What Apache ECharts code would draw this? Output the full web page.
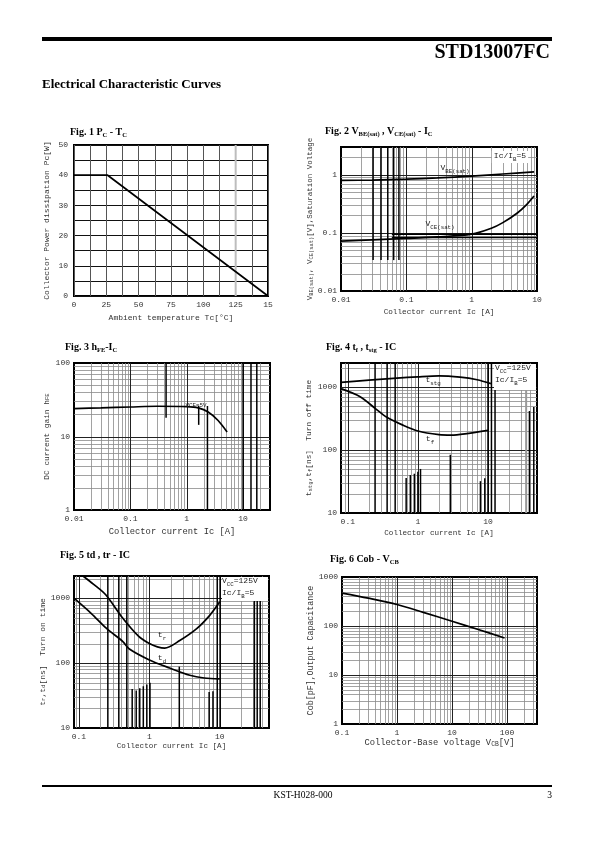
<!DOCTYPE html>
<html><head><meta charset="utf-8">
<script src="https://cdn.jsdelivr.net/npm/echarts@6/dist/echarts.min.js"></script>
<style>html,body{margin:0;padding:0;background:#fff}#c{width:595px;height:842px}</style>
</head><body><div id="c"></div>
<script>
// ================= DATA =================
// Fig.1 Pc - Tc
const fig1Temp = [0, 26, 150];
const fig1Pc = [40, 40, 0];
// Fig.2 VBE(sat), VCE(sat) - Ic
const fig2IcBe = [0.01, 0.03, 0.1, 0.3, 1, 3, 9];
const fig2Vbe = [0.80, 0.81, 0.84, 0.88, 0.95, 1.03, 1.12];
const fig2IcCe = [0.01, 0.03, 0.1, 0.3, 1, 2, 3, 5, 7, 9];
const fig2Vce = [0.072, 0.076, 0.08, 0.085, 0.095, 0.12, 0.15, 0.22, 0.31, 0.43];
// Fig.3 hFE - Ic
const fig3Ic = [0.01, 0.03, 0.1, 0.3, 1, 1.6, 2.4, 3.6, 5.2];
const fig3Hfe = [24, 24.5, 25.2, 25.8, 25.5, 24.5, 21.5, 16.5, 11.5];
// Fig.4 tf, tstg - Ic
const fig4IcStg = [0.08, 0.2, 0.5, 1, 2, 4, 7, 11];
const fig4Tstg = [1180, 1280, 1380, 1450, 1500, 1430, 1300, 1130];
const fig4IcF = [0.08, 0.15, 0.25, 0.36, 0.6, 1, 2, 3, 5, 10];
const fig4Tf = [940, 700, 450, 330, 250, 200, 175, 172, 182, 205];
// Fig.5 td, tr - Ic
const fig5IcR = [0.114, 0.16, 0.24, 0.42, 0.7, 1.0, 1.3, 1.65, 2.7, 4.7, 7.2, 10];
const fig5Tr = [2200, 1650, 1130, 490, 260, 200, 178, 170, 223, 340, 545, 880];
const fig5IcD = [0.085, 0.15, 0.244, 0.42, 0.52, 1, 1.94, 3.75, 6, 10];
const fig5Td = [1000, 580, 345, 215, 165, 112, 84, 65, 59, 57];
// Fig.6 Cob - Vcb
const fig6Vcb = [0.1, 0.3, 1, 3, 10, 30, 90];
const fig6Cob = [470, 370, 275, 190, 125, 85, 57];

// Tick labels
const fig1XTicks = [0, 25, 50, 75, 100, 125, 150];
const fig1XTickText = ['0', '25', '50', '75', '100', '125', '15'];
const fig1YTicks = [0, 10, 20, 30, 40, 50];
const fig2XTicks = [0.01, 0.1, 1, 10];
const fig2YTicks = [0.01, 0.1, 1];
const fig3XTicks = [0.01, 0.1, 1, 10];
const fig3YTicks = [1, 10, 100];
const fig4XTicks = [0.1, 1, 10];
const fig4YTicks = [10, 100, 1000];
const fig5XTicks = [0.1, 1, 10];
const fig5YTicks = [10, 100, 1000];
const fig6XTicks = [0.1, 1, 10, 100];
const fig6YTicks = [1, 10, 100, 1000];
const minorMantissa = [2, 3, 4, 5, 6, 7, 8, 9];

// Dark scan marks on the printed grids: [x0, y0, x1, y1] in axis units
const fig1GrayMarks = [[125, 0, 125, 50]];
const fig2Marks = [[0.031,0.034,0.031,3],[0.041,0.034,0.041,3],[0.052,0.034,0.052,3],[0.064,0.034,0.064,3],[0.077,0.034,0.077,3],[0.06,0.095,10,0.095],[0.06,0.083,10,0.083]];
const fig3Marks = [[0.43,18,0.43,100],[1.63,14.4,1.63,26],[2.33,1,2.33,26],[10,1,10,100],[13.8,1,13.8,100],[17.5,1,17.5,100]];
const fig4Marks = [[0.245,10,0.245,2400],[0.364,10,0.364,2400],[0.474,10,0.474,2400],[0.68,10,0.68,36],[0.78,10,0.78,40],[0.89,10,0.89,42],[1.0,10,1.0,45],[1.09,10,1.09,50],[2.9,10,2.9,84],[7.8,10,7.8,32],[9,10,9,35.6],[10,10,10,2400],[11.2,10,11.2,2400],[12.6,10,12.6,2400],[39,10,39,415],[45,10,45,480]];
const fig4GrayMarks = [[35,10,35,1050]];
const fig5Marks = [[0.257,10,0.257,2200],[0.368,10,0.368,2200],[0.478,10,0.478,2200],[0.57,10,0.57,40],[0.65,10,0.65,38],[0.73,10,0.73,41],[0.82,10,0.82,44],[0.92,10,0.92,47],[1.02,10,1.02,50],[2.66,10,2.66,88],[7.06,10,7.06,36],[8.0,10,8.0,37],[9.2,10,9.2,2200],[10.1,10,10.1,2200],[31,10,31,1000],[34,10,34,1000],[37.5,10,37.5,1000]];

// ================= HELPERS =================
const SERIF = '"Liberation Serif","Times New Roman",serif';
const MONO = '"Liberation Mono","DejaVu Sans Mono",monospace';
const zip = (a, b) => a.map((v, i) => [v, b[i]]);
function fmt(vals, texts) {
  return function (v) {
    for (let i = 0; i < vals.length; i++) {
      const t = vals[i];
      const ok = t === 0 ? Math.abs(v) < 1e-9 : Math.abs(v / t - 1) < 1e-6;
      if (ok) return texts ? texts[i] : String(t);
    }
    return '';
  };
}
function logValues(min, max, mant) {
  const out = [];
  for (let e = Math.floor(Math.log10(min)) - 1; e <= Math.ceil(Math.log10(max)); e++) {
    for (const m of mant) {
      const v = +(m * Math.pow(10, e)).toPrecision(6);
      if (v > min * 1.0001 && v < max * 0.9999) out.push(v);
    }
  }
  return out;
}
function gridSegs(xmin, xmax, ymin, ymax, mant) {
  const s = [];
  logValues(xmin, xmax, mant).forEach(v => s.push([v, ymin, v, ymax]));
  logValues(ymin, ymax, mant).forEach(v => s.push([xmin, v, xmax, v]));
  return s;
}
function segSeries(idx, segs, color, width, z) {
  return {
    type: 'custom', xAxisIndex: idx, yAxisIndex: idx, z: z, silent: true,
    data: segs, encode: { x: [0, 2], y: [1, 3] },
    renderItem: function (p, api) {
      const a = api.coord([api.value(0), api.value(1)]);
      const b = api.coord([api.value(2), api.value(3)]);
      let x1 = a[0], x2 = b[0], y1 = a[1], y2 = b[1];
      if (width <= 1.1) {
        if (Math.abs(x1 - x2) < 0.01) { x1 = x2 = Math.round(x1) + 0.5; }
        if (Math.abs(y1 - y2) < 0.01) { y1 = y2 = Math.round(y1) + 0.5; }
      }
      return { type: 'line', shape: { x1, y1, x2, y2 }, style: { stroke: color, lineWidth: width } };
    }
  };
}
function curve(idx, xs, ys, smooth) {
  return { type: 'line', xAxisIndex: idx, yAxisIndex: idx, data: zip(xs, ys), symbol: 'none',
    smooth: smooth, z: 6, silent: true, lineStyle: { color: '#000', width: 1.7 } };
}

const grids = [
  { left: 74, top: 145, width: 194, height: 151 },
  { left: 341, top: 147, width: 196, height: 144 },
  { left: 74, top: 363, width: 196, height: 147 },
  { left: 341, top: 363, width: 196, height: 150 },
  { left: 74, top: 576, width: 195, height: 152 },
  { left: 342, top: 577, width: 195, height: 147 }
].map(g => Object.assign(g, { show: true, borderColor: '#000', borderWidth: 2, backgroundColor: 'transparent' }));

const lblStyle = { fontFamily: MONO, fontSize: 8, color: '#333' };
const subRich = (fs) => ({ s: { fontFamily: MONO, fontSize: fs * 0.72, color: '#333', padding: [3, 0, 0, 0] } });

function logAxis(idx, dir, min, max, ticks, name, nameGap, nameSize) {
  return {
    type: 'log', logBase: 10, gridIndex: idx, min: min, max: max,
    axisLine: { show: false }, axisTick: { show: false }, splitLine: { show: false },
    axisLabel: Object.assign({ formatter: fmt(ticks), margin: dir === 'x' ? 5 : 4, showMinLabel: true, showMaxLabel: true }, lblStyle),
    name: name, nameLocation: 'middle', nameGap: nameGap,
    nameTextStyle: { fontFamily: MONO, fontSize: nameSize, color: '#333', rich: subRich(nameSize) }
  };
}

const xAxis = [
  { type: 'value', gridIndex: 0, min: 0, max: 150, interval: 12.5,
    axisLine: { show: false }, axisTick: { show: false },
    splitLine: { show: true, lineStyle: { color: '#555', width: 1 } },
    axisLabel: Object.assign({ formatter: fmt(fig1XTicks, fig1XTickText), margin: 5 }, lblStyle),
    name: 'Ambient temperature Tc[°C]', nameLocation: 'middle', nameGap: 18,
    nameTextStyle: { fontFamily: MONO, fontSize: 8, color: '#333' } },
  logAxis(1, 'x', 0.01, 10, fig2XTicks, 'Collector current Ic [A]', 17, 7.7),
  logAxis(2, 'x', 0.01, 30, fig3XTicks, 'Collector current Ic [A]', 17, 8.8),
  logAxis(3, 'x', 0.08, 50, fig4XTicks, 'Collector current Ic [A]', 16, 7.6),
  logAxis(4, 'x', 0.085, 50, fig5XTicks, 'Collector current Ic [A]', 14, 7.6),
  logAxis(5, 'x', 0.1, 350, fig6XTicks, 'Collector-Base voltage V{s|CB}[V]', 9, 8.8)
];
const yAxis = [
  { type: 'value', gridIndex: 0, min: 0, max: 50, interval: 5,
    axisLine: { show: false }, axisTick: { show: false },
    splitLine: { show: true, lineStyle: { color: '#111', width: 1 } },
    axisLabel: Object.assign({ formatter: fmt(fig1YTicks), margin: 6 }, lblStyle),
    name: 'Collector Power dissipation Pc[W]', nameLocation: 'middle', nameGap: 23,
    nameTextStyle: { fontFamily: MONO, fontSize: 8, color: '#333' } },
  logAxis(1, 'y', 0.01, 3, fig2YTicks, 'V{s|BE(sat)}, V{s|CE(sat)}[V],Saturation Voltage', 17, 7.5),
  logAxis(2, 'y', 1, 100, fig3YTicks, 'DC current gain h{s|FE}', 23, 7.8),
  logAxis(3, 'y', 10, 2400, fig4YTicks, 't{s|stg},t{s|f}[ns]  Turn off time', 25, 7.8),
  logAxis(4, 'y', 10, 2200, fig5YTicks, 't{s|r},t{s|d}[ns]  Turn on time', 24, 8),
  logAxis(5, 'y', 1, 1000, fig6YTicks, 'Cob[pF],Output Capacitance', 18, 8.3)
];

const logExt = [null, [0.01, 10, 0.01, 3], [0.01, 30, 1, 100], [0.08, 50, 10, 2400], [0.085, 50, 10, 2200], [0.1, 350, 1, 1000]];
const series = [];
for (let i = 1; i < 6; i++) {
  const e = logExt[i];
  series.push(segSeries(i, gridSegs(e[0], e[1], e[2], e[3], minorMantissa), '#8a8a8a', 0.8, 1));
  series.push(segSeries(i, gridSegs(e[0], e[1], e[2], e[3], [1]), '#222', 1, 2));
}
series.push(segSeries(0, fig1GrayMarks, '#bdbdbd', 2, 3));
series.push(segSeries(1, fig2Marks, '#000', 1.5, 3));
series.push(segSeries(2, fig3Marks, '#000', 1.5, 3));
series.push(segSeries(3, fig4Marks, '#000', 1.5, 3));
series.push(segSeries(3, fig4GrayMarks, '#999', 2, 3));
series.push(segSeries(4, fig5Marks, '#000', 1.5, 3));

series.push(curve(0, fig1Temp, fig1Pc, false));
series.push(curve(1, fig2IcBe, fig2Vbe, 0.3));
series.push(curve(1, fig2IcCe, fig2Vce, 0.3));
series.push(curve(2, fig3Ic, fig3Hfe, 0.3));
series.push(curve(3, fig4IcStg, fig4Tstg, 0.3));
series.push(curve(3, fig4IcF, fig4Tf, 0.3));
series.push(curve(4, fig5IcR, fig5Tr, 0.3));
series.push(curve(4, fig5IcD, fig5Td, 0.3));
series.push(curve(5, fig6Vcb, fig6Cob, 0.3));

// ================= TEXT / DECORATION =================
const titleRich = {
  b: { fontFamily: SERIF, fontWeight: 'bold', fontSize: 10, lineHeight: 12, verticalAlign: 'top', fill: '#000' },
  s: { fontFamily: SERIF, fontWeight: 'bold', fontSize: 6.5, lineHeight: 8, padding: [5, 0, 0, 0], verticalAlign: 'top', fill: '#000' }
};
const monoRich = {
  m: { fontFamily: MONO, fontSize: 8, lineHeight: 10, verticalAlign: 'top', fill: '#222' },
  s: { fontFamily: MONO, fontSize: 5.8, lineHeight: 7, padding: [4, 0, 0, 0], verticalAlign: 'top', fill: '#222' }
};
function rtext(x, y, text, rich, align, bg) {
  const st = { text: text, rich: rich, align: align || 'left', verticalAlign: 'middle' };
  if (bg) { st.backgroundColor = '#fff'; st.padding = [1, 2, 1, 2]; }
  return { type: 'text', x: x, y: y, z: 100, silent: true, style: st };
}
const graphic = [
  { type: 'rect', shape: { x: 42, y: 37, width: 510, height: 4 }, style: { fill: '#000' }, silent: true },
  { type: 'text', x: 550, y: 53, silent: true, style: { text: 'STD13007FC', align: 'right', verticalAlign: 'middle', font: 'bold 20px ' + SERIF, fill: '#000' } },
  { type: 'text', x: 42, y: 85, silent: true, style: { text: 'Electrical Characteristic Curves', align: 'left', verticalAlign: 'middle', font: 'bold 13px ' + SERIF, fill: '#000' } },
  { type: 'rect', shape: { x: 42, y: 785, width: 510, height: 2 }, style: { fill: '#000' }, silent: true },
  { type: 'text', x: 303, y: 795, silent: true, style: { text: 'KST-H028-000', align: 'center', verticalAlign: 'middle', font: '9.5px ' + SERIF, fill: '#000' } },
  { type: 'text', x: 552, y: 795, silent: true, style: { text: '3', align: 'right', verticalAlign: 'middle', font: '9.5px ' + SERIF, fill: '#000' } },

  rtext(70, 133, '{b|Fig. 1 P}{s|C}{b| - T}{s|C}', titleRich),
  rtext(325, 132, '{b|Fig. 2 V}{s|BE(sat)}{b| , V}{s|CE(sat)}{b| - I}{s|C}', titleRich),
  rtext(65, 348, '{b|Fig. 3 h}{s|FE}{b|-I}{s|C}', titleRich),
  rtext(326, 348, '{b|Fig. 4 t}{s|f}{b| , t}{s|stg}{b| - IC}', titleRich),
  rtext(60, 556, '{b|Fig. 5 td , tr - IC}', titleRich),
  rtext(330, 560, '{b|Fig. 6 Cob - V}{s|CB}', titleRich),

  // Fig 2 annotations
  rtext(510, 157, '{m|Ic/I}{s|B}{m|=5}', monoRich, 'center', true),
  rtext(455, 169, '{m|V}{s|BE(sat)}', monoRich, 'center'),
  rtext(440, 225, '{m|V}{s|CE(sat)}', monoRich, 'center'),
  // Fig 3
  rtext(196, 402, '{s|V}{s|CE}{s|=5V}', monoRich, 'center'),
  // Fig 4
  { type: 'rect', z: 99, silent: true, shape: { x: 494, y: 364, width: 42, height: 26 }, style: { fill: '#fff' } },
  rtext(495, 369, '{m|V}{s|CC}{m|=125V}', monoRich, 'left'),
  rtext(495, 381, '{m|Ic/I}{s|B}{m|=5}', monoRich, 'left'),
  rtext(433, 381, '{m|t}{s|stg}', monoRich, 'center'),
  rtext(430, 440, '{m|t}{s|f}', monoRich, 'center'),
  // Fig 5
  { type: 'rect', z: 99, silent: true, shape: { x: 222, y: 577, width: 46, height: 24 }, style: { fill: '#fff' } },
  rtext(222, 582, '{m|V}{s|CC}{m|=125V}', monoRich, 'left'),
  rtext(222, 594, '{m|Ic/I}{s|B}{m|=5}', monoRich, 'left'),
  rtext(162, 636, '{m|t}{s|r}', monoRich, 'center'),
  rtext(162, 659, '{m|t}{s|d}', monoRich, 'center')
];

const chart = echarts.init(document.getElementById('c'), null, { renderer: 'canvas', width: 595, height: 842 });
chart.setOption({ animation: false, backgroundColor: '#fff', grid: grids, xAxis: xAxis, yAxis: yAxis, series: series, graphic: graphic });
</script></body></html>
